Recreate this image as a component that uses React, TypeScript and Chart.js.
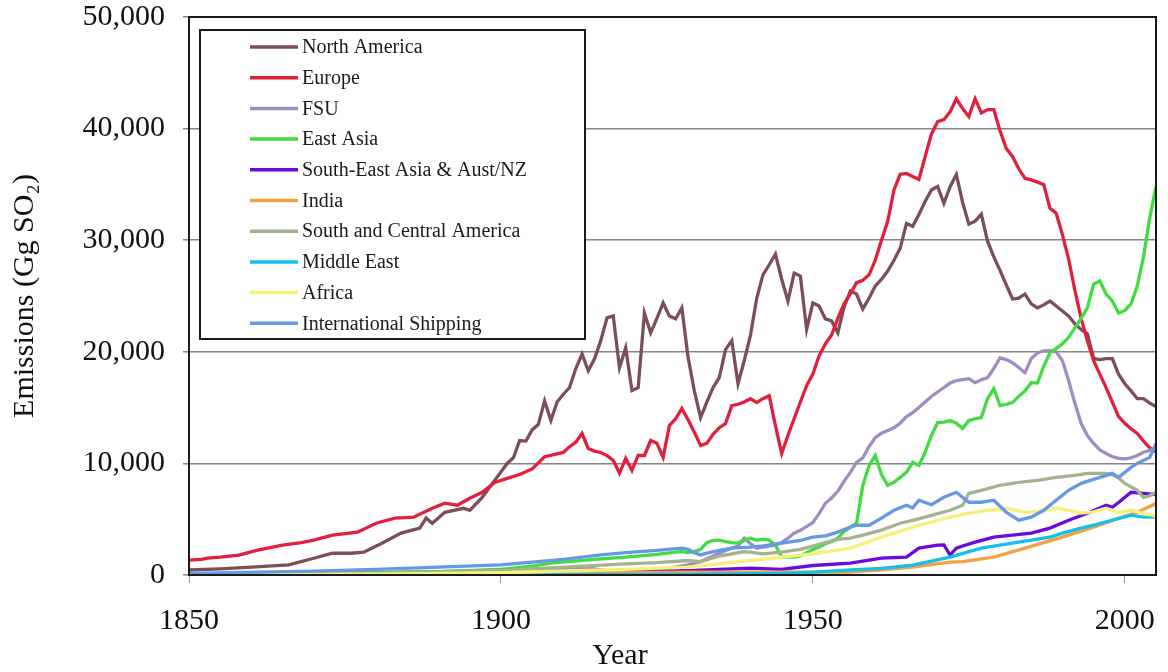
import React, { useEffect, useRef } from "react";
import { Chart, registerables } from "chart.js";

Chart.register(...registerables);

// ---- Data (year, Gg SO2) ----
const seriesNames = [
  "North America",
  "Europe",
  "FSU",
  "East Asia",
  "South-East Asia & Aust/NZ",
  "India",
  "South and Central America",
  "Middle East",
  "Africa",
  "International Shipping",
];

const seriesColors = [
  "#7B4E58",
  "#E0203C",
  "#A08CC2",
  "#40DC40",
  "#6A0AE0",
  "#F5A045",
  "#A2B48E",
  "#14C0E8",
  "#F7F07C",
  "#6698E6",
];

const yTickValues = [0, 10000, 20000, 30000, 40000, 50000];
const xTickValues = [1850, 1900, 1950, 2000];
const xAxisTitle = "Year";
const yAxisTitle = "Emissions (Gg SO₂)";

const northAmerica: [number, number][] = [
  [1850, 450], [1855, 550], [1860, 700], [1866, 900], [1870, 1500], [1873, 1960], [1876, 1950], [1878, 2050],
  [1881, 2860], [1884, 3750], [1887, 4200], [1888, 5100], [1889, 4640], [1891, 5620], [1894, 5980], [1895, 5800],
  [1897, 6960], [1899, 8480], [1901, 10000], [1902, 10500], [1903, 12050], [1904, 12000], [1905, 13000], [1906, 13500],
  [1907, 15600], [1908, 13840], [1909, 15500], [1910, 16200], [1911, 16800], [1912, 18500], [1913, 19800], [1914, 18300],
  [1915, 19370], [1916, 21000], [1917, 23040], [1918, 23220], [1919, 18570], [1920, 20360], [1921, 16520], [1922, 16790],
  [1923, 23480], [1924, 21700], [1925, 23000], [1926, 24380], [1927, 23200], [1928, 22950], [1929, 23930], [1930, 19500],
  [1931, 16500], [1932, 14110], [1933, 15500], [1934, 16790], [1935, 17680], [1936, 20200], [1937, 21000], [1938, 17140],
  [1939, 19200], [1940, 21500], [1941, 24800], [1942, 26900], [1943, 27800], [1944, 28750], [1945, 26500], [1946, 24550],
  [1947, 27050], [1948, 26790], [1949, 22000], [1950, 24380], [1951, 24110], [1952, 22950], [1953, 22770], [1954, 21700],
  [1955, 24000], [1956, 25450], [1957, 25180], [1958, 23840], [1959, 24800], [1960, 25890], [1961, 26500], [1962, 27230],
  [1963, 28200], [1964, 29290], [1965, 31500], [1966, 31250], [1967, 32300], [1968, 33480], [1969, 34500], [1970, 34820],
  [1971, 33300], [1972, 34800], [1973, 35890], [1974, 33400], [1975, 31430], [1976, 31700], [1977, 32320], [1978, 29910],
  [1979, 28500], [1980, 27300], [1981, 26000], [1982, 24730], [1983, 24800], [1984, 25180], [1985, 24300], [1986, 23930],
  [1987, 24200], [1988, 24550], [1989, 24100], [1990, 23660], [1991, 23200], [1992, 22500], [1993, 22000], [1994, 21610],
  [1995, 19400], [1996, 19300], [1997, 19380], [1998, 19380], [1999, 18000], [2000, 17140], [2001, 16500], [2002, 15800],
  [2003, 15800], [2004, 15400], [2005, 15100],
];

const europe: [number, number][] = [
  [1850, 1340], [1852, 1400], [1853, 1520], [1855, 1610], [1858, 1790], [1861, 2230], [1865, 2680], [1868, 2900],
  [1870, 3130], [1873, 3570], [1877, 3840], [1880, 4640], [1883, 5090], [1886, 5180], [1889, 5980], [1891, 6430],
  [1893, 6250], [1895, 6880], [1897, 7410], [1899, 8300], [1901, 8660], [1903, 9000], [1905, 9500], [1907, 10600],
  [1910, 10980], [1911, 11500], [1912, 11900], [1913, 12680], [1914, 11340], [1915, 11100], [1916, 10980], [1917, 10700],
  [1918, 10270], [1919, 9110], [1920, 10450], [1921, 9380], [1922, 10710], [1923, 10710], [1924, 12050], [1925, 11800],
  [1926, 10540], [1927, 13390], [1928, 14000], [1929, 14910], [1930, 13900], [1931, 12800], [1932, 11610], [1933, 11790],
  [1934, 12600], [1935, 13200], [1936, 13570], [1937, 15180], [1938, 15300], [1939, 15500], [1940, 15800], [1941, 15450],
  [1942, 15800], [1943, 16070], [1944, 13390], [1945, 10890], [1946, 12500], [1947, 14000], [1948, 15500], [1949, 16970],
  [1950, 18000], [1951, 19640], [1952, 20710], [1953, 21500], [1954, 23000], [1955, 24300], [1956, 25180], [1957, 26200],
  [1958, 26400], [1959, 26900], [1960, 28200], [1961, 30000], [1962, 31700], [1963, 34500], [1964, 35900], [1965, 35980],
  [1966, 35700], [1967, 35450], [1968, 37500], [1969, 39500], [1970, 40630], [1971, 40800], [1972, 41500], [1973, 42680],
  [1974, 41800], [1975, 41070], [1976, 42680], [1977, 41400], [1978, 41700], [1979, 41700], [1980, 39800], [1981, 38220],
  [1982, 37500], [1983, 36400], [1984, 35540], [1985, 35400], [1986, 35200], [1987, 35000], [1988, 32860], [1989, 32410],
  [1990, 30500], [1991, 28300], [1992, 25500], [1993, 23000], [1994, 21000], [1995, 19200], [1996, 18000], [1997, 16790],
  [1998, 15500], [1999, 14200], [2000, 13600], [2001, 13100], [2002, 12680], [2003, 12000], [2004, 11400], [2005, 11000],
];

const fsu: [number, number][] = [
  [1850, 100], [1870, 150], [1890, 300], [1900, 450], [1910, 600], [1913, 700], [1917, 400], [1920, 250],
  [1925, 450], [1928, 700], [1930, 900], [1932, 1200], [1934, 1700], [1936, 2200], [1938, 2600], [1939, 3300],
  [1940, 2800], [1941, 2400], [1942, 2500], [1944, 2700], [1945, 2900], [1946, 3300], [1947, 3750], [1948, 4000],
  [1950, 4700], [1951, 5500], [1952, 6430], [1953, 6900], [1954, 7500], [1955, 8400], [1956, 9200], [1957, 10090],
  [1958, 10500], [1959, 11500], [1960, 12300], [1961, 12700], [1962, 12950], [1963, 13200], [1964, 13600], [1965, 14200],
  [1966, 14550], [1967, 15000], [1968, 15500], [1969, 16000], [1970, 16400], [1971, 16800], [1972, 17200], [1973, 17410],
  [1974, 17500], [1975, 17590], [1976, 17230], [1977, 17500], [1978, 17680], [1979, 18500], [1980, 19460], [1981, 19300],
  [1982, 19020], [1983, 18600], [1984, 18130], [1985, 19380], [1986, 19900], [1987, 20090], [1988, 20100], [1989, 20000],
  [1990, 19200], [1991, 17410], [1992, 15400], [1993, 13570], [1994, 12500], [1995, 11790], [1996, 11200], [1997, 10890],
  [1998, 10600], [1999, 10450], [2000, 10400], [2001, 10500], [2002, 10710], [2003, 11000], [2004, 11160], [2005, 11400],
];

const eastAsia: [number, number][] = [
  [1850, 50], [1870, 100], [1890, 300], [1900, 500], [1905, 800], [1908, 1070], [1915, 1400], [1920, 1600],
  [1925, 1850], [1928, 2050], [1929, 2100], [1930, 2000], [1931, 2100], [1932, 2300], [1933, 2900], [1934, 3100],
  [1935, 3130], [1936, 3000], [1937, 2900], [1938, 2860], [1939, 3100], [1940, 3300], [1941, 3130], [1942, 3200],
  [1943, 3130], [1944, 2680], [1945, 1610], [1946, 1600], [1947, 1610], [1948, 1700], [1949, 2000], [1950, 2300],
  [1951, 2500], [1952, 2800], [1953, 3000], [1954, 3300], [1955, 3900], [1956, 4290], [1957, 4640], [1958, 8000],
  [1959, 9800], [1960, 10710], [1961, 9000], [1962, 8040], [1963, 8300], [1964, 8750], [1965, 9200], [1966, 10090],
  [1967, 9820], [1968, 11000], [1969, 12500], [1970, 13660], [1971, 13700], [1972, 13840], [1973, 13600], [1974, 13120],
  [1975, 13840], [1976, 14000], [1977, 14110], [1978, 15800], [1979, 16700], [1980, 15180], [1981, 15300], [1982, 15450],
  [1983, 16000], [1984, 16500], [1985, 17230], [1986, 17200], [1987, 18700], [1988, 19900], [1989, 20300], [1990, 20710],
  [1991, 21300], [1992, 22140], [1993, 23000], [1994, 23930], [1995, 26070], [1996, 26340], [1997, 25180], [1998, 24550],
  [1999, 23480], [2000, 23700], [2001, 24300], [2002, 25900], [2003, 28500], [2004, 32000], [2005, 34800],
];

const seAsiaAustNZ: [number, number][] = [
  [1850, 20], [1880, 60], [1900, 150], [1920, 300], [1930, 400], [1937, 550], [1940, 620], [1945, 500],
  [1950, 850], [1956, 1070], [1961, 1520], [1965, 1610], [1967, 2410], [1970, 2680], [1971, 2700], [1972, 1790],
  [1973, 2400], [1974, 2600], [1976, 2950], [1979, 3390], [1982, 3570], [1985, 3750], [1988, 4200], [1991, 4910],
  [1994, 5540], [1997, 6250], [1998, 6070], [1999, 6500], [2001, 7410], [2003, 7320], [2005, 7200],
];

const india: [number, number][] = [
  [1850, 50], [1900, 150], [1930, 250], [1950, 250], [1956, 270], [1961, 450], [1966, 710], [1972, 1160],
  [1974, 1200], [1979, 1610], [1984, 2410], [1990, 3390], [1995, 4290], [1999, 5090], [2002, 5620], [2005, 6400],
];

const southCentralAmerica: [number, number][] = [
  [1850, 50], [1880, 150], [1900, 400], [1910, 700], [1920, 1000], [1925, 1100], [1930, 1300], [1932, 1200],
  [1935, 1700], [1937, 1900], [1939, 2100], [1940, 2050], [1942, 1900], [1945, 2050], [1948, 2300], [1950, 2600],
  [1952, 2900], [1954, 3200], [1956, 3300], [1958, 3570], [1961, 4020], [1964, 4640], [1966, 4900], [1968, 5180],
  [1970, 5500], [1972, 5800], [1974, 6250], [1975, 7320], [1977, 7590], [1980, 8040], [1983, 8300], [1986, 8480],
  [1989, 8750], [1992, 8930], [1994, 9110], [1997, 9110], [1998, 9000], [1999, 8700], [2000, 8200], [2001, 7900],
  [2002, 7590], [2003, 6960], [2004, 7100], [2005, 7410],
];

const middleEast: [number, number][] = [
  [1850, 0], [1900, 20], [1930, 60], [1945, 150], [1950, 250], [1956, 450], [1961, 600], [1966, 890],
  [1972, 1610], [1977, 2410], [1983, 2950], [1988, 3390], [1990, 3750], [1993, 4200], [1995, 4460], [1998, 4910],
  [2001, 5360], [2003, 5180], [2005, 5200],
];

const africa: [number, number][] = [
  [1850, 30], [1880, 80], [1900, 200], [1920, 500], [1930, 700], [1940, 1300], [1945, 1600], [1950, 1900],
  [1956, 2410], [1961, 3390], [1966, 4290], [1970, 4900], [1972, 5180], [1975, 5540], [1978, 5800], [1981, 5980],
  [1984, 5620], [1986, 5700], [1989, 5980], [1991, 5800], [1993, 5540], [1995, 5650], [1997, 5980], [1999, 5600],
  [2001, 5800], [2003, 5500], [2005, 5300],
];

const internationalShipping: [number, number][] = [
  [1850, 150], [1870, 350], [1880, 500], [1890, 700], [1900, 900], [1910, 1400], [1916, 1800], [1920, 2000],
  [1925, 2200], [1929, 2410], [1930, 2300], [1931, 2000], [1932, 1800], [1933, 1960], [1935, 2200], [1937, 2400],
  [1940, 2500], [1942, 2600], [1945, 2860], [1948, 3100], [1950, 3390], [1952, 3500], [1954, 3840], [1956, 4290],
  [1957, 4460], [1959, 4460], [1961, 5090], [1963, 5800], [1965, 6250], [1966, 6000], [1967, 6700], [1969, 6300],
  [1971, 6960], [1973, 7410], [1975, 6520], [1977, 6520], [1979, 6700], [1981, 5620], [1983, 4910], [1985, 5180],
  [1987, 5800], [1989, 6700], [1991, 7590], [1993, 8210], [1996, 8750], [1998, 9110], [1999, 8750], [2001, 9640],
  [2002, 10000], [2004, 10540], [2005, 11800],
];

const allSeries = [
  northAmerica,
  europe,
  fsu,
  eastAsia,
  seAsiaAustNZ,
  india,
  southCentralAmerica,
  middleEast,
  africa,
  internationalShipping,
];

const FONT = '"Liberation Serif", "Times New Roman", serif';

const frameAndLegend = {
  id: "frameAndLegend",
  afterDatasetsDraw(chart: any) {
    const { ctx, chartArea } = chart;
    ctx.save();
    // plot frame
    ctx.strokeStyle = "#1a1a1a";
    ctx.lineWidth = 2;
    ctx.strokeRect(chartArea.left, chartArea.top, chartArea.right - chartArea.left, chartArea.bottom - chartArea.top);

    // legend box
    const bx = chartArea.left + 11;
    const by = chartArea.top + 13;
    const bw = 385;
    const bh = 309;
    ctx.fillStyle = "#ffffff";
    ctx.fillRect(bx, by, bw, bh);
    ctx.strokeStyle = "#1a1a1a";
    ctx.lineWidth = 2;
    ctx.strokeRect(bx, by, bw, bh);

    ctx.font = `20px ${FONT}`;
    ctx.textBaseline = "middle";
    ctx.textAlign = "left";
    seriesNames.forEach((name, i) => {
      const y = by + 17 + i * 30.7;
      ctx.strokeStyle = seriesColors[i];
      ctx.lineWidth = 3.5;
      ctx.beginPath();
      ctx.moveTo(bx + 50, y);
      ctx.lineTo(bx + 98, y);
      ctx.stroke();
      ctx.fillStyle = "#1a1a1a";
      ctx.fillText(name, bx + 102, y + 1);
    });

    // x axis title
    ctx.font = `30px ${FONT}`;
    ctx.textAlign = "center";
    ctx.textBaseline = "middle";
    ctx.fillStyle = "#111";
    ctx.fillText(xAxisTitle, 620, 656);
    ctx.restore();
  },
};

export default function App() {
  const canvasRef = useRef<HTMLCanvasElement | null>(null);

  useEffect(() => {
    if (!canvasRef.current) return;
    const datasets = seriesNames.map((name, i) => ({
      label: name,
      data: allSeries[i].map(([x, y]) => ({ x, y })),
      borderColor: seriesColors[i],
      backgroundColor: seriesColors[i],
      borderWidth: 3.3,
      pointRadius: 0,
      tension: 0,
      fill: false,
      order: seriesNames.length - i,
    }));

    const chart = new Chart(canvasRef.current, {
      type: "line",
      data: { datasets },
      plugins: [frameAndLegend],
      options: {
        animation: false,
        responsive: false,
        layout: { padding: { top: 17, right: 12, left: 0, bottom: 0 } },
        plugins: {
          legend: { display: false },
          tooltip: { enabled: false },
        },
        scales: {
          x: {
            type: "linear",
            min: 1850,
            max: 2005,
            afterBuildTicks: (scale: any) => {
              scale.ticks = xTickValues.map((v) => ({ value: v }));
            },
            afterFit: (scale: any) => {
              scale.height = 97;
              scale.paddingLeft = 0;
              scale.paddingRight = 0;
            },
            ticks: {
              color: "#111",
              font: { family: FONT, size: 30 },
              padding: 20,
              maxRotation: 0,
              callback: (v: any) => String(v),
            },
            grid: {
              drawOnChartArea: false,
              drawTicks: true,
              tickLength: 8,
              color: "#999",
            },
            border: { display: false },
            title: { display: false },
          },
          y: {
            type: "linear",
            min: 0,
            max: 50000,
            afterBuildTicks: (scale: any) => {
              scale.ticks = yTickValues.map((v) => ({ value: v }));
            },
            afterFit: (scale: any) => {
              scale.width = 189;
              scale.paddingTop = 0;
              scale.paddingBottom = 0;
            },
            ticks: {
              color: "#111",
              font: { family: FONT, size: 30 },
              padding: 18,
              callback: (v: any) => Number(v).toLocaleString("en-US"),
            },
            grid: {
              color: "#858585",
              lineWidth: 1.5,
              drawTicks: true,
              tickLength: 6,
            },
            border: { display: false },
            title: {
              display: true,
              text: yAxisTitle,
              color: "#111",
              font: { family: FONT, size: 30 },
              padding: { top: 7, bottom: 0 },
            },
          },
        },
      },
    });
    return () => chart.destroy();
  }, []);

  return (
    <div style={{ position: "absolute", left: 0, top: 0, width: 1168, height: 672, background: "#fff" }}>
      <canvas ref={canvasRef} width={1168} height={672} />
    </div>
  );
}
